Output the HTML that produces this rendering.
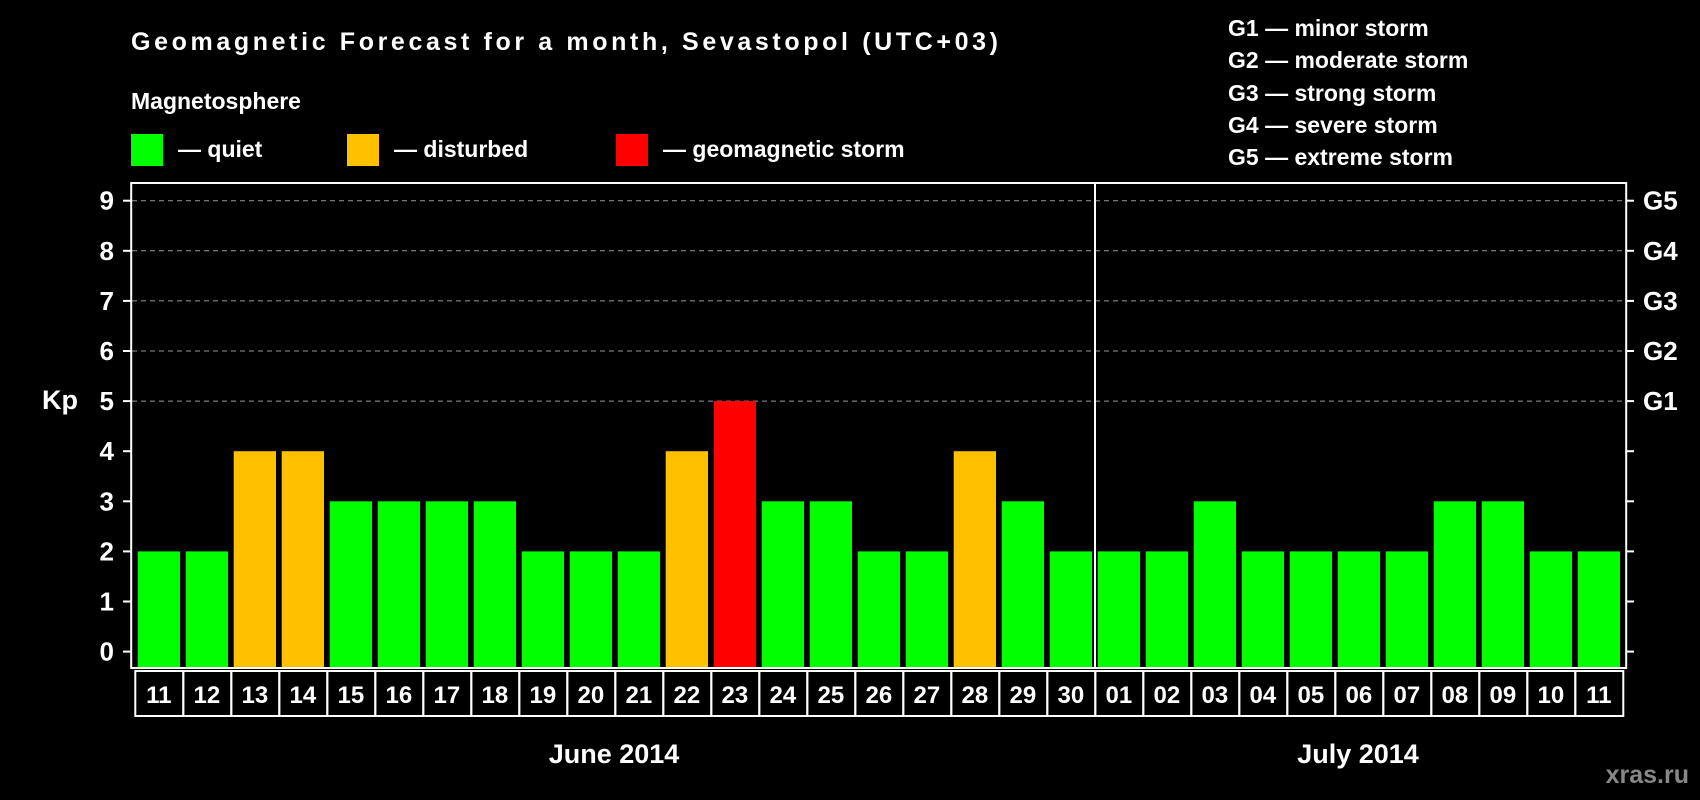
<!DOCTYPE html>
<html><head><meta charset="utf-8"><style>
html,body{margin:0;padding:0;background:#000;width:1700px;height:800px;overflow:hidden}
svg{display:block;font-family:"Liberation Sans",sans-serif;font-weight:bold}
</style></head><body>
<svg id="chart" width="1700" height="800" viewBox="0 0 1700 800">
<rect x="0" y="0" width="1700" height="800" fill="#000"/>
<text x="131" y="50" fill="#fff" font-size="25" textLength="867">Geomagnetic Forecast for a month, Sevastopol (UTC+03)</text>
<text x="131" y="109" fill="#fff" font-size="23">Magnetosphere</text>
<g><rect x="131" y="134" width="32" height="32" fill="#00ff00"/><text x="178" y="157" fill="#fff" font-size="23">— quiet</text></g>
<g><rect x="347" y="134" width="32" height="32" fill="#ffc000"/><text x="394" y="157" fill="#fff" font-size="23">— disturbed</text></g>
<g><rect x="616" y="134" width="32" height="32" fill="#ff0000"/><text x="663" y="157" fill="#fff" font-size="23">— geomagnetic storm</text></g>
<g fill="#fff" font-size="23">
<text x="1228" y="36">G1 — minor storm</text>
<text x="1228" y="68">G2 — moderate storm</text>
<text x="1228" y="101">G3 — strong storm</text>
<text x="1228" y="133">G4 — severe storm</text>
<text x="1228" y="165">G5 — extreme storm</text>
</g>
<text x="42" y="409" fill="#fff" font-size="27">Kp</text>
<text x="614" y="763" fill="#fff" font-size="27" text-anchor="middle">June 2014</text>
<text x="1358" y="763" fill="#fff" font-size="27" text-anchor="middle">July 2014</text>
<text x="1689" y="783" fill="#888" font-size="25" text-anchor="end">xras.ru</text>
<g id="grid"></g><g id="bars"></g><g id="xlabels"></g>
<rect x="131.2" y="183" width="1495" height="485" fill="none" stroke="#fff" stroke-width="2"/>
<line x1="1095" y1="183" x2="1095" y2="668" stroke="#fff" stroke-width="2"/>
</svg>
<script>
const days = ["11","12","13","14","15","16","17","18","19","20","21","22","23","24","25","26","27","28","29","30","01","02","03","04","05","06","07","08","09","10","11"];
const kpValues = [2,2,4,4,3,3,3,3,2,2,2,4,5,3,3,2,2,4,3,2,2,2,3,2,2,2,2,3,3,2,2];
const yTicks = [0,1,2,3,4,5,6,7,8,9];
const gLabels = ["","","","","","G1","G2","G3","G4","G5"];

const NS="http://www.w3.org/2000/svg";
const y = v => 651.6 - v*50.1;
const x = i => 137.7 + i*48.0;
const BW = 42.3;
function mk(tag, attrs, parent){const e=document.createElementNS(NS,tag);for(const k in attrs)e.setAttribute(k,attrs[k]);parent.appendChild(e);return e;}
const grid=document.getElementById('grid'), bars=document.getElementById('bars'), xl=document.getElementById('xlabels');
yTicks.forEach(t=>{
  if(t>=5){const gl=mk('line',{x1:132,x2:1626,y1:y(t),y2:y(t),stroke:'#999','stroke-width':1,'stroke-dasharray':'5,4'},grid);
    
    }
  const lt=mk('line',{x1:123,x2:131,y1:y(t),y2:y(t),stroke:'#fff','stroke-width':2},grid);
  
  
  const rt=mk('line',{x1:1626,x2:1634,y1:y(t),y2:y(t),stroke:'#fff','stroke-width':2},grid);
  
  
  const tx=mk('text',{x:114,y:y(t)+9,fill:'#fff','font-size':26,'text-anchor':'end'},grid);
  tx.textContent=t;
  
  
  if(gLabels[t]){const g=mk('text',{x:1643,y:y(t)+9,fill:'#fff','font-size':26},grid);
    g.textContent=gLabels[t];
    
    }
});
kpValues.forEach((v,i)=>{
  const col = v>=5?'#ff0000':(v>=4?'#ffc000':'#00ff00');
  const r=mk('rect',{x:x(i),y:y(v),width:BW,height:668-y(v),fill:col},bars);
  
  
  const b=mk('rect',{x:x(i)-2.4,y:671,width:48,height:45,fill:'none',stroke:'#fff','stroke-width':2},xl);
  
  
  const t=mk('text',{x:x(i)+BW/2,y:703,fill:'#fff','font-size':24,'text-anchor':'middle'},xl);
  t.textContent=days[i];
  
  
});
</script>
</body></html>
